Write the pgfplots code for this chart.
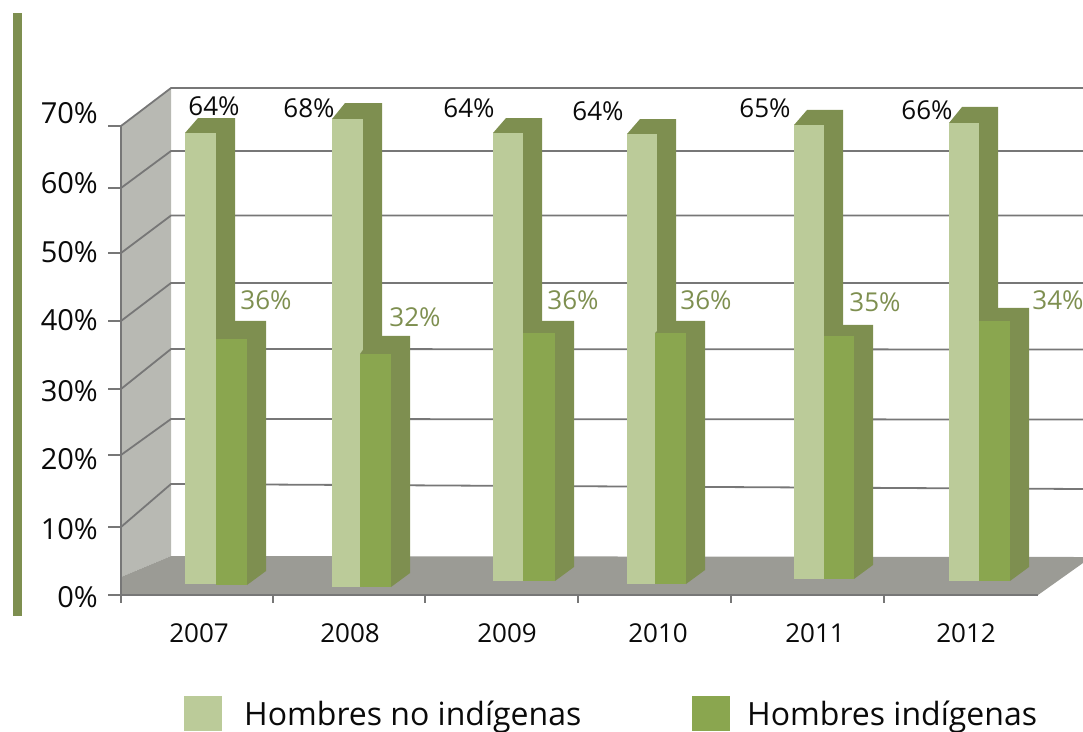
\documentclass[border=0pt]{standalone}
\usepackage{pgfplots}
\pgfplotsset{compat=1.18}
\usepackage{fontspec}
\setmainfont{Open Sans}
\definecolor{cLight}{HTML}{BBCB99}
\definecolor{cDark}{HTML}{8AA64F}
\definecolor{cSide}{HTML}{7E8F50}
\definecolor{cWall}{HTML}{B8B9B3}
\definecolor{cFloor}{HTML}{9B9B95}
\definecolor{cGrid}{HTML}{777777}
\definecolor{cText}{HTML}{0A0A0A}
% x0, x1, base, top, top of the rear edge, front colour
\newcommand{\dbar}[6]{%
  \pgfmathsetmacro{\xa}{#1}\pgfmathsetmacro{\xb}{#2}
  \pgfmathsetmacro{\xc}{#2+19}\pgfmathsetmacro{\xd}{#1+13}
  \pgfmathsetmacro{\yb}{#3}\pgfmathsetmacro{\yt}{#4}
  \pgfmathsetmacro{\ybb}{#3+2.09}\pgfmathsetmacro{\ytt}{#5}
  \edef\temp{\noexpand\addplot[fill=cSide,draw=none] coordinates {(\xb,\yb) (\xc,\ybb) (\xc,\ytt) (\xd,\ytt) (\xa,\yt) (\xb,\yt)} -- cycle;
  \noexpand\addplot[fill=#6,draw=none] coordinates {(\xa,\yb) (\xb,\yb) (\xb,\yt) (\xa,\yt)} -- cycle;}%
  \temp
}
\pgfplotsset{canvas/.style={scale only axis,width=1083pt,height=731pt,hide axis,xmin=0,xmax=1083,clip=false,at={(0pt,0pt)},anchor=south west}}
\newcommand{\tl}[3]{\node[anchor=east,inner sep=0pt,text=cText,font=\fontsize{29}{29}\selectfont] at (axis cs:#1,#2) {#3};}
\newcommand{\cl}[4]{\node[text=#4,font=\fontsize{26}{26}\selectfont] at (axis cs:#1,#2) {#3};}
\begin{document}
\begin{tikzpicture}[x=1pt,y=1pt]
\path[use as bounding box] (0pt,0pt) rectangle (1083pt,731pt);
% frame, in picture units
\begin{axis}[canvas,ymin=0,ymax=731,y dir=reverse]
\addplot[fill=cSide,draw=none] coordinates {(13,13) (22,13) (22,616) (13,616)} -- cycle;
\addplot[fill=cWall,draw=none] coordinates {(121,126) (171,88) (171,556) (121,577)} -- cycle;
\addplot[fill=cFloor,draw=none] coordinates {(121,577) (171,556) (1083,557) (1083,563) (1038,595) (121,595)} -- cycle;
\addplot[cGrid,line width=1.8pt] coordinates {(108,126) (121,126) (171,88) (1083,88)};
\addplot[cGrid,line width=1.8pt] coordinates {(108,188) (121,188) (171,151) (1083,151)};
\addplot[cGrid,line width=1.8pt] coordinates {(108,253) (121,253) (171,215.5) (1083,215.5)};
\addplot[cGrid,line width=1.8pt] coordinates {(108,321) (121,321) (171,283) (1083,283)};
\addplot[cGrid,line width=1.8pt] coordinates {(108,389) (121,389) (171,349) (1083,349.5)};
\addplot[cGrid,line width=1.8pt] coordinates {(108,455) (121,455) (171,419) (1083,419.5)};
\addplot[cGrid,line width=1.8pt] coordinates {(108,527) (121,527) (171,484) (1083,489)};
\addplot[cGrid,line width=2pt] coordinates {(108,595) (1038,595)};
\addplot[cGrid,line width=1.5pt] coordinates {(121,126) (121,603)};
\addplot[cGrid,line width=1.5pt] coordinates {(273,595) (273,603)};
\addplot[cGrid,line width=1.5pt] coordinates {(425,595) (425,603)};
\addplot[cGrid,line width=1.5pt] coordinates {(578,595) (578,603)};
\addplot[cGrid,line width=1.5pt] coordinates {(731,595) (731,603)};
\addplot[cGrid,line width=1.5pt] coordinates {(884,595) (884,603)};
% legend swatches
\addplot[fill=cLight,draw=none] coordinates {(184,696) (222,696) (222,731) (184,731)} -- cycle;
\addplot[fill=cDark,draw=none] coordinates {(692,696) (730,696) (730,731) (692,731)} -- cycle;
\end{axis}
% bars, with y in percentage points on the front plane
\begin{axis}[canvas,ymin=-20.30,ymax=88.81]
\dbar{185}{216}{1.64}{68.96}{71.19}{cLight}
\dbar{216}{247}{1.49}{38.21}{40.90}{cDark}
\dbar{332}{363}{1.19}{71.04}{73.43}{cLight}
\dbar{360}{391}{1.19}{35.97}{38.66}{cDark}
\dbar{493}{523}{2.09}{68.96}{71.19}{cLight}
\dbar{523}{555}{2.09}{39.10}{40.90}{cDark}
\dbar{627}{657}{1.64}{68.81}{71.04}{cLight}
\dbar{655}{686}{1.64}{39.10}{40.90}{cDark}
\dbar{794}{824}{2.39}{70.15}{72.39}{cLight}
\dbar{824}{854}{2.39}{38.66}{40.30}{cDark}
\dbar{949}{979}{2.09}{70.45}{72.84}{cLight}
\dbar{979}{1010}{2.09}{40.90}{42.84}{cDark}
\end{axis}
% text
\begin{axis}[canvas,ymin=0,ymax=731,y dir=reverse]
\tl{98}{113}{70\%}\tl{98}{183}{60\%}\tl{98}{252}{50\%}\tl{98}{320}{40\%}
\tl{98}{391}{30\%}\tl{98}{459}{20\%}\tl{98}{529}{10\%}\tl{98}{597}{0\%}
\cl{199}{633}{2007}{cText}\cl{350}{633}{2008}{cText}\cl{507}{633}{2009}{cText}
\cl{658}{633}{2010}{cText}\cl{815}{633}{2011}{cText}\cl{966}{633}{2012}{cText}
\cl{214}{106}{64\%}{cText}\cl{309}{108}{68\%}{cText}\cl{469}{108}{64\%}{cText}
\cl{598}{111}{64\%}{cText}\cl{765}{108}{65\%}{cText}\cl{927}{110}{66\%}{cText}
\cl{266}{300}{36\%}{cSide}\cl{415}{317}{32\%}{cSide}\cl{573}{300}{36\%}{cSide}
\cl{706}{300}{36\%}{cSide}\cl{875}{302}{35\%}{cSide}\cl{1058}{300}{34\%}{cSide}
\node[anchor=base west,inner sep=0pt,text=cText,font=\fontsize{32}{32}\selectfont] at (axis cs:244,725) {Hombres no indígenas};
\node[anchor=base west,inner sep=0pt,text=cText,font=\fontsize{32}{32}\selectfont] at (axis cs:747,725) {Hombres indígenas};
\end{axis}
\end{tikzpicture}
\end{document}
